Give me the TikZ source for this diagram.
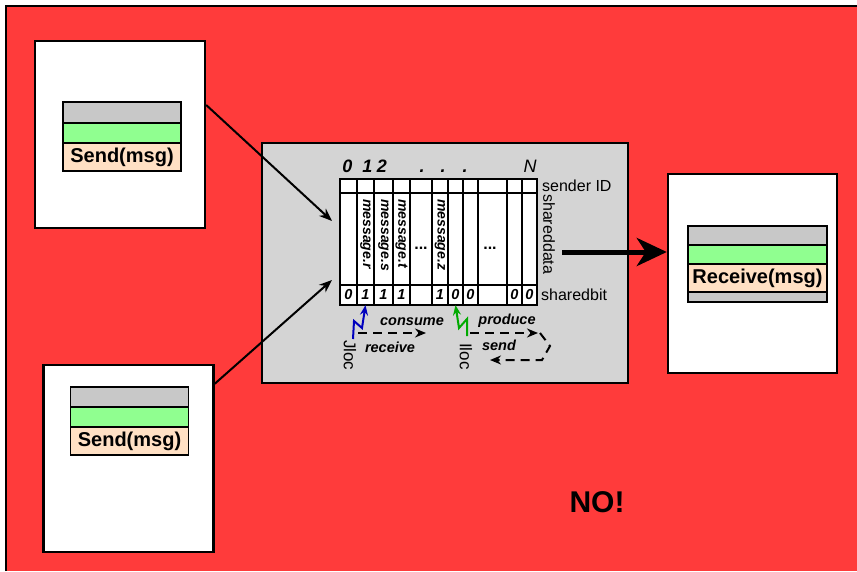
\documentclass[tikz,border=0pt]{standalone}
\usepackage{fontspec}
\setmainfont{Liberation Sans}
\usetikzlibrary{arrows.meta}

\definecolor{alarm}{RGB}{255,59,59}
\definecolor{panel}{RGB}{212,212,212}
\definecolor{slotgray}{RGB}{200,200,200}
\definecolor{slotgreen}{RGB}{144,255,144}
\definecolor{slotpeach}{RGB}{255,224,196}
\definecolor{sparkblue}{RGB}{0,0,190}
\definecolor{sparkgreen}{RGB}{0,170,0}

\newcommand{\fs}[1]{\fontsize{#1}{#1}\selectfont}

\begin{document}
\begin{tikzpicture}[x=1pt,y=-1pt,
  >=Stealth,
  process/.style={draw=black,fill=white,line width=2.4pt,inner sep=0pt,
    minimum width=170pt,minimum height=187pt},
  shared/.style={draw=black,fill=panel,line width=2.4pt,inner sep=0pt,
    minimum width=366pt,minimum height=240pt},
  slot/.style={draw=black,line width=1.8pt,inner sep=0pt,outer sep=0pt,
    minimum width=118pt,font=\fs{20}\bfseries},
  slotgray/.style={slot,fill=slotgray},
  slotgreen/.style={slot,fill=slotgreen},
  slotcall/.style={slot,fill=slotpeach},
  grid/.style={draw=black,line width=2pt},
  msg/.style={inner sep=0pt,rotate=-90,anchor=west,font=\fs{14}\bfseries\itshape},
  bitdigit/.style={inner sep=0pt,minimum height=20pt,font=\fs{14.5}\bfseries\itshape},
  index/.style={inner sep=0pt,anchor=base,font=\fs{18}\bfseries\itshape},
  field/.style={inner sep=0pt,font=\fs{16}},
  verb/.style={inner sep=0pt,font=\fs{14.5}\bfseries\itshape},
  link/.style={draw=black,line width=2pt,-{Stealth[length=13pt,width=10pt]}},
  bigflow/.style={draw=black,line width=5pt,-{Stealth[length=30pt,width=28pt,inset=9pt]}},
  spark/.style={line width=2pt,-{Stealth[length=10pt,width=8pt]}},
  flow/.style={draw=black,line width=2pt,dash pattern=on 9pt off 6pt}]

\useasboundingbox (0,0) rectangle (857,571);

% background
\fill[alarm] (5,6) rectangle (857,571);
\draw[line width=2pt] (6,571) -- (6,6) -- (857,6);

% processes
\node[process] (senderA) at (120,134.5) {};
\node[process] (senderB) at (128.5,458.5) {};
\node[process,minimum width=169pt,minimum height=199pt] (receiver) at (752.5,273.5) {};

\node[slotgray,minimum height=21pt] (grayA) at (122,112.5) {};
\node[slotgreen,minimum height=20pt] (greenA) at (122,133) {};
\node[slotcall,minimum height=28pt] (sendA) at (122,157) {Send(msg)};

\node[slotgray,minimum height=20pt] (grayB) at (129.5,397) {};
\node[slotgreen,minimum height=20pt] (greenB) at (129.5,417) {};
\node[slotcall,minimum height=28pt] (sendB) at (129.5,441) {Send(msg)};

\node[slotgray,minimum width=139pt,minimum height=19pt] (grayR) at (757.5,235.5) {};
\node[slotgreen,minimum width=139pt,minimum height=19pt] (greenR) at (757.5,254.5) {};
\node[slotcall,minimum width=139pt,minimum height=28pt] (recvR) at (757.5,278) {Receive(msg)};
\node[slotgray,minimum width=139pt,minimum height=10pt] (footR) at (757.5,297) {};

% shared memory
\node[shared] (memory) at (445,263) {};
\node[grid,minimum width=197pt,minimum height=126pt,inner sep=0pt,fill=white] (slots) at (438.5,242) {};
\draw[grid] (340,193) -- (537,193);
\draw[grid] (340,285) -- (537,285);
\foreach \x in {357,374,393,410,432,448,463,478,507,522}
  \draw[grid] (\x,179) -- (\x,305);

\node[index] (id0) at (347.5,172) {0};
\node[index] (id1) at (367.5,172) {1};
\node[index] (id2) at (382,172) {2};
\foreach \x [count=\i] in {422,443,465}
  \node[index] (dot\i) at (\x,172) {.};
\node[index,font=\fs{18}\itshape] (idN) at (530,172) {N};

\node[msg] (msgr) at (365.5,199) {message.r};
\node[msg] (msgs) at (383.5,199) {message.s};
\node[msg] (msgt) at (401.5,199) {message.t};
\node[msg] (msgz) at (440,199) {message.z};
\node[index,font=\fs{16}\bfseries] (gapA) at (421,249) {...};
\node[index,font=\fs{16}\bfseries] (gapB) at (490,249) {...};

\foreach \x/\b [count=\i] in {348.5/0,365.5/1,383.5/1,401.5/1,421/,440/1,455.5/0,470.5/0,492.5/,514.5/0,529.5/0}
  \node[bitdigit] (bit\i) at (\x,295) {\b};

\node[field,anchor=west] (senderid) at (542,186) {sender ID};
\node[field,rotate=-90,anchor=west] (shareddata) at (549,194) {shareddata};
\node[field,anchor=west] (sharedbit) at (541,295) {sharedbit};

% pointers
\coordinate (jloc) at (353,339);
\coordinate (iloc) at (467,336);
\node[field,font=\fs{17},rotate=-90,anchor=west] (jlabel) at (350,340) {Jloc};
\node[field,font=\fs{17},rotate=-90,anchor=west] (ilabel) at (466,343) {Iloc};
\draw[spark,sparkblue] (jloc) -- ++(1,-18) -- ++(8,7) -- (bit2.south);
\draw[spark,sparkgreen] (iloc) -- ++(0,-17) -- ++(-8,9) -- (bit7.south);

\coordinate (consumeA) at (358,333);
\coordinate (consumeB) at (426,333);
\coordinate (produceA) at (470,333);
\coordinate (produceB) at (538,333);
\coordinate (sendA0) at (540,333);
\coordinate (sendA1) at (490,360);
\draw[flow,-{Stealth[length=11pt,width=9pt]}] (consumeA) -- (consumeB);
\draw[flow,-{Stealth[length=11pt,width=9pt]}] (produceA) -- (produceB);
\draw[flow,-{Stealth[length=11pt,width=9pt]}] (sendA0) -- (550,346) -- (542,360) -- (sendA1);

\node[verb] (consume) at (412,322) {consume};
\node[verb] (receive) at (390,347) {receive};
\node[verb] (produce) at (507,321) {produce};
\node[verb] (send) at (499,345) {send};

% messages
\draw[link] ([yshift=29.5pt]senderA.east) -- ([xshift=-7pt,yshift=21pt]slots.west);
\draw[link] ([yshift=-20pt]senderB.north east) -- ([xshift=-7pt,yshift=-38pt]slots.west);
\draw[bigflow] ([xshift=24pt,yshift=-10pt]slots.east) -- ([yshift=21.5pt]receiver.west);

\node[inner sep=0pt,font=\fs{30}\bfseries] (verdict) at (597,502) {NO!};
\end{tikzpicture}
\end{document}
